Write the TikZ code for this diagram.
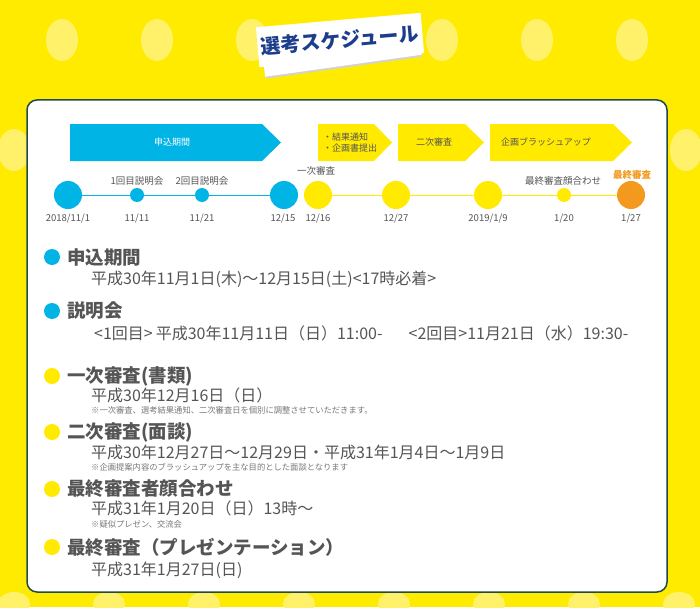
\documentclass[tikz,border=0pt]{standalone}
\usepackage{fontspec}
\setmainfont{Noto Sans CJK JP}
\usetikzlibrary{shapes.geometric}
\definecolor{bgY}{HTML}{FFEB00}
\definecolor{dotY}{HTML}{FFF26A}
\definecolor{cBlue}{HTML}{00B4E6}
\definecolor{cYel}{HTML}{FFEA00}
\definecolor{cOr}{HTML}{F39A1E}
\definecolor{txt}{HTML}{555555}
\definecolor{navy}{HTML}{1C3D8C}
\definecolor{frame}{HTML}{1E4A4A}
\tikzset{
 dotlabel/.style={font=\fontsize{9.5}{10}\selectfont, text=txt},
 datelabel/.style={font=\fontsize{9.5}{10}\selectfont, text=txt},
 chevtext/.style={font=\fontsize{9}{11}\selectfont, text=txt},
 head/.style={font=\fontsize{18.5}{19}\selectfont\bfseries, text=txt, anchor=west, inner xsep=0pt},
 body/.style={font=\fontsize{16}{17}\selectfont, text=txt, anchor=west, inner xsep=0pt},
 note/.style={font=\fontsize{8.3}{9}\selectfont, text=txt!80, anchor=west, inner xsep=0pt},
}
\begin{document}
\begin{tikzpicture}[x=1pt,y=-1pt]
\useasboundingbox (0,0) rectangle (700,607);
\fill[bgY] (0,0) rectangle (700,607);
\foreach \x in {62,157,252,347,442,537,632} \fill[dotY] (\x,40) ellipse (16 and 21);
\foreach \x in {14,686} \fill[dotY] (\x,150) ellipse (16 and 21);
\foreach \x in {14,109,204,299,394,489,584,679} \fill[dotY] (\x,604) ellipse (16 and 12);
% panel
\draw[frame, line width=1.5pt, fill=white, rounded corners=10pt] (27,100) rectangle (667,592);
% title cards
\fill[gray!35, rotate around={8:(340,48)}] (262,30) rectangle (420,68);
\fill[white, rotate around={8:(340,48)}] (262,29) rectangle (420,66);
\node[fill=white, rotate=5, minimum width=165, minimum height=40, font=\fontsize{20}{21}\selectfont\bfseries, text=navy] (title) at (340,40) {選考スケジュール};
% chevrons
\fill[cBlue] (70,124) -- (262,124) -- (281,142.5) -- (262,161) -- (70,161) -- cycle;
\node[chevtext, text=white] (c1) at (172,142.5) {申込期間};
\fill[cYel] (318,124) -- (374,124) -- (392,142.5) -- (374,161) -- (318,161) -- cycle;
\node[chevtext, align=left] (c2) at (350,142.5) {・結果通知\\・企画書提出};
\fill[cYel] (398,124) -- (465,124) -- (484,142.5) -- (465,161) -- (398,161) -- cycle;
\node[chevtext] (c3) at (434,142.5) {二次審査};
\fill[cYel] (490,124) -- (613,124) -- (632,142.5) -- (613,161) -- (490,161) -- cycle;
\node[chevtext] (c4) at (546,142.5) {企画ブラッシュアップ};
% timeline
\draw[cBlue, line width=0.8pt] (68,195) -- (284,195);
\draw[cYel, line width=0.8pt] (318,195) -- (631,195);
\foreach \n/\x/\r/\c in {d1/68/14/cBlue, d2/137/7/cBlue, d3/202/7/cBlue, d4/284/14/cBlue, d5/318/14/cYel, d6/396/14/cYel, d7/488/14/cYel, d8/564/7/cYel, d9/631/14/cOr}
  \fill[\c] (\x,195) circle (\r);
\node[dotlabel] (l2) at (137,181) {1回目説明会};
\node[dotlabel] (l3) at (202,181) {2回目説明会};
\node[dotlabel] (l5) at (316,171) {一次審査};
\node[dotlabel] (l8) at (563,181) {最終審査顔合わせ};
\node[dotlabel, text=cOr, font=\fontsize{9.5}{10}\selectfont\bfseries] (l9) at (632,175) {最終審査};
\foreach \n/\x/\t in {e1/68/{2018/11/1}, e2/137/{11/11}, e3/202/{11/21}, e4/283/{12/15}, e5/318/{12/16}, e6/396/{12/27}, e7/488/{2019/1/9}, e8/564/{1/20}, e9/631/{1/27}}
  \node[datelabel] (\n) at (\x,219) {\t};
% list
\foreach \y/\c in {257/cBlue, 311/cBlue, 376/cYel, 432/cYel, 489/cYel, 547/cYel} \fill[\c] (52,\y) circle (8);
\node[head] (h1) at (67,257) {申込期間};
\node[body] (b1) at (91,279) {平成30年11月1日(木)～12月15日(土)<17時必着>};
\node[head] (h2) at (67,311) {説明会};
\node[body] (b2) at (94,333) {<1回目>\hspace{3pt}平成30年11月11日（日）11:00-\hspace{26pt}<2回目>11月21日（水）19:30-};
\node[head] (h3) at (67,376) {一次審査(書類)};
\node[body] (b3) at (91,395) {平成30年12月16日（日）};
\node[note] (n3) at (91,410) {※一次審査、選考結果通知、二次審査日を個別に調整させていただきます。};
\node[head] (h4) at (67,432) {二次審査(面談)};
\node[body] (b4) at (91,452) {平成30年12月27日～12月29日・平成31年1月4日～1月9日};
\node[note] (n4) at (91,467) {※企画提案内容のブラッシュアップを主な目的とした面談となります};
\node[head] (h5) at (67,489) {最終審査者顔合わせ};
\node[body] (b5) at (91,508) {平成31年1月20日（日）13時～};
\node[note] (n5) at (91,524) {※疑似プレゼン、交流会};
\node[head] (h6) at (67,547) {最終審査（プレゼンテーション）};
\node[body] (b6) at (91,570) {平成31年1月27日(日)};
\end{tikzpicture}
\end{document}
